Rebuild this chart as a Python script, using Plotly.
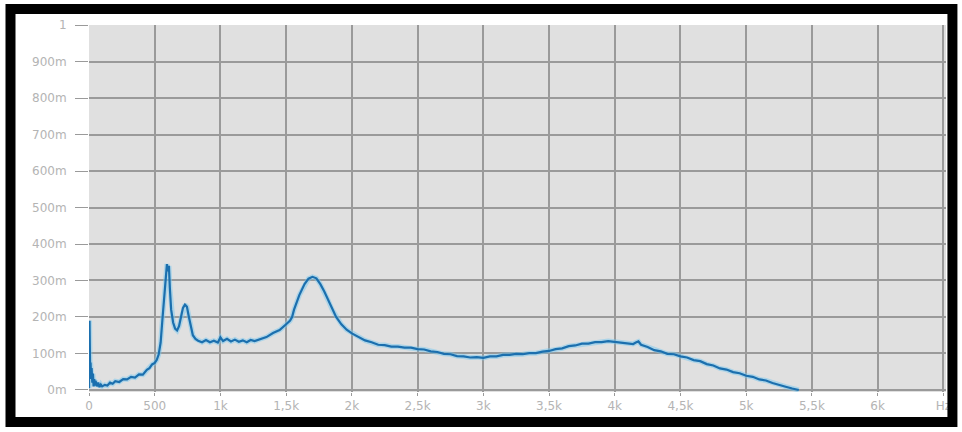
import plotly.graph_objects as go

# Frequency (Hz) and amplitude (linear, 1 = full scale)
freq = [0, 4, 8, 12, 16, 20, 25, 30, 35, 40, 45, 50, 60, 70, 80, 90, 100, 120, 140, 160,
        180, 200, 230, 260, 290, 320, 350, 380, 410, 440, 460, 480, 500, 515, 530, 545,
        560, 575, 585, 593, 600, 608, 615, 625, 640, 655, 670, 685, 700, 715, 730, 745,
        760, 775, 790, 810, 830, 860, 890, 920, 950, 980, 1000, 1020, 1050, 1080, 1110,
        1140, 1170, 1200, 1230, 1260, 1300, 1350, 1400, 1450, 1500, 1530, 1545, 1560,
        1600, 1640, 1670, 1700, 1730, 1760, 1790, 1820, 1850, 1880, 1920, 1960, 2000,
        2050, 2100, 2150, 2200, 2250, 2300, 2350, 2400, 2450, 2500, 2550, 2600, 2650,
        2700, 2750, 2800, 2850, 2900, 2950, 3000, 3050, 3100, 3150, 3200, 3250, 3300,
        3350, 3400, 3450, 3500, 3550, 3600, 3650, 3700, 3750, 3800, 3850, 3900, 3950,
        4000, 4050, 4100, 4140, 4160, 4180, 4200, 4250, 4300, 4350, 4400, 4450, 4500,
        4550, 4600, 4650, 4700, 4750, 4800, 4850, 4900, 4950, 5000, 5050, 5100, 5150,
        5200, 5250, 5300, 5350, 5400]
amp = [0.005, 0.19, 0.07, 0.075, 0.03, 0.06, 0.02, 0.045, 0.01, 0.03, 0.012, 0.025, 0.01,
       0.02, 0.008, 0.015, 0.01, 0.014, 0.012, 0.02, 0.017, 0.024, 0.022, 0.03, 0.029,
       0.036, 0.034, 0.043, 0.042, 0.055, 0.06, 0.07, 0.074, 0.082, 0.097, 0.13, 0.2,
       0.27, 0.32, 0.345, 0.325, 0.34, 0.28, 0.22, 0.185, 0.168, 0.163, 0.175, 0.2, 0.225,
       0.234, 0.228, 0.2, 0.17, 0.15, 0.14, 0.135, 0.131, 0.137, 0.131, 0.135, 0.13,
       0.144, 0.134, 0.14, 0.133, 0.138, 0.132, 0.136, 0.131, 0.137, 0.134, 0.139,
       0.145, 0.156, 0.164, 0.18, 0.19, 0.2, 0.22, 0.26, 0.29, 0.305, 0.31, 0.306, 0.29,
       0.27, 0.245, 0.22, 0.2, 0.18, 0.165, 0.155, 0.146, 0.136, 0.131, 0.124, 0.123,
       0.119, 0.119, 0.116, 0.116, 0.112, 0.111, 0.106, 0.104, 0.099, 0.098, 0.093,
       0.092, 0.089, 0.09, 0.088, 0.092, 0.092, 0.096, 0.096, 0.099, 0.098, 0.101,
       0.101, 0.105, 0.107, 0.112, 0.114, 0.12, 0.122, 0.127, 0.127, 0.131, 0.131,
       0.134, 0.132, 0.131, 0.129, 0.126, 0.13, 0.133, 0.124, 0.118, 0.109, 0.106,
       0.099, 0.098, 0.092, 0.089, 0.082, 0.079, 0.071, 0.067, 0.059, 0.056, 0.049,
       0.046, 0.039, 0.036, 0.029, 0.026, 0.019, 0.015, 0.009, 0.004, 0.0]

x_tickvals = [0, 500, 1000, 1500, 2000, 2500, 3000, 3500, 4000, 4500, 5000, 5500, 6000, 6500]
x_ticktext = ["0", "500", "1k", "1,5k", "2k", "2,5k", "3k", "3,5k", "4k", "4,5k", "5k",
              "5,5k", "6k", "Hz"]
y_tickvals = [0, 0.1, 0.2, 0.3, 0.4, 0.5, 0.6, 0.7, 0.8, 0.9, 1.0]
y_ticktext = ["0m", "100m", "200m", "300m", "400m", "500m", "600m", "700m", "800m",
              "900m", "1"]

fig = go.Figure()
fig.add_trace(go.Scatter(x=freq, y=amp, mode="lines",
                         line=dict(color="rgba(120,200,240,0.5)", width=5),
                         hoverinfo="skip", showlegend=False))
fig.add_trace(go.Scatter(x=freq, y=amp, mode="lines",
                         line=dict(color="#1b6fae", width=2.2),
                         showlegend=False))

fig.update_layout(
    width=962, height=432,
    margin=dict(l=89, r=11, t=25, b=40),
    paper_bgcolor="white",
    plot_bgcolor="#e0e0e0",
    font=dict(family="DejaVu Sans", size=12, color="#b4b4b4"),
    xaxis=dict(range=[0, 6520], tickvals=x_tickvals, ticktext=x_ticktext,
               showgrid=True, gridcolor="#9a9a9a", gridwidth=2,
               zeroline=False, ticks="outside", ticklen=3, tickcolor="#9a9a9a",
               showline=False),
    yaxis=dict(range=[-0.0055, 1.0], tickvals=y_tickvals, ticktext=y_ticktext,
               showgrid=True, gridcolor="#9a9a9a", gridwidth=2,
               zeroline=False, ticks="outside", ticklen=13, tickcolor="#9a9a9a",
               ticklabelstandoff=6, showline=False),
    shapes=[dict(type="rect", xref="paper", yref="paper",
                 x0=-0.0916, x1=1.0075, y0=-0.0817, y1=1.0436,
                 line=dict(color="black", width=10), layer="above")],
)

fig.write_html("out.html",
               config={"displayModeBar": False},
               post_script="document.body.style.margin='0';document.body.style.overflow='hidden';")
